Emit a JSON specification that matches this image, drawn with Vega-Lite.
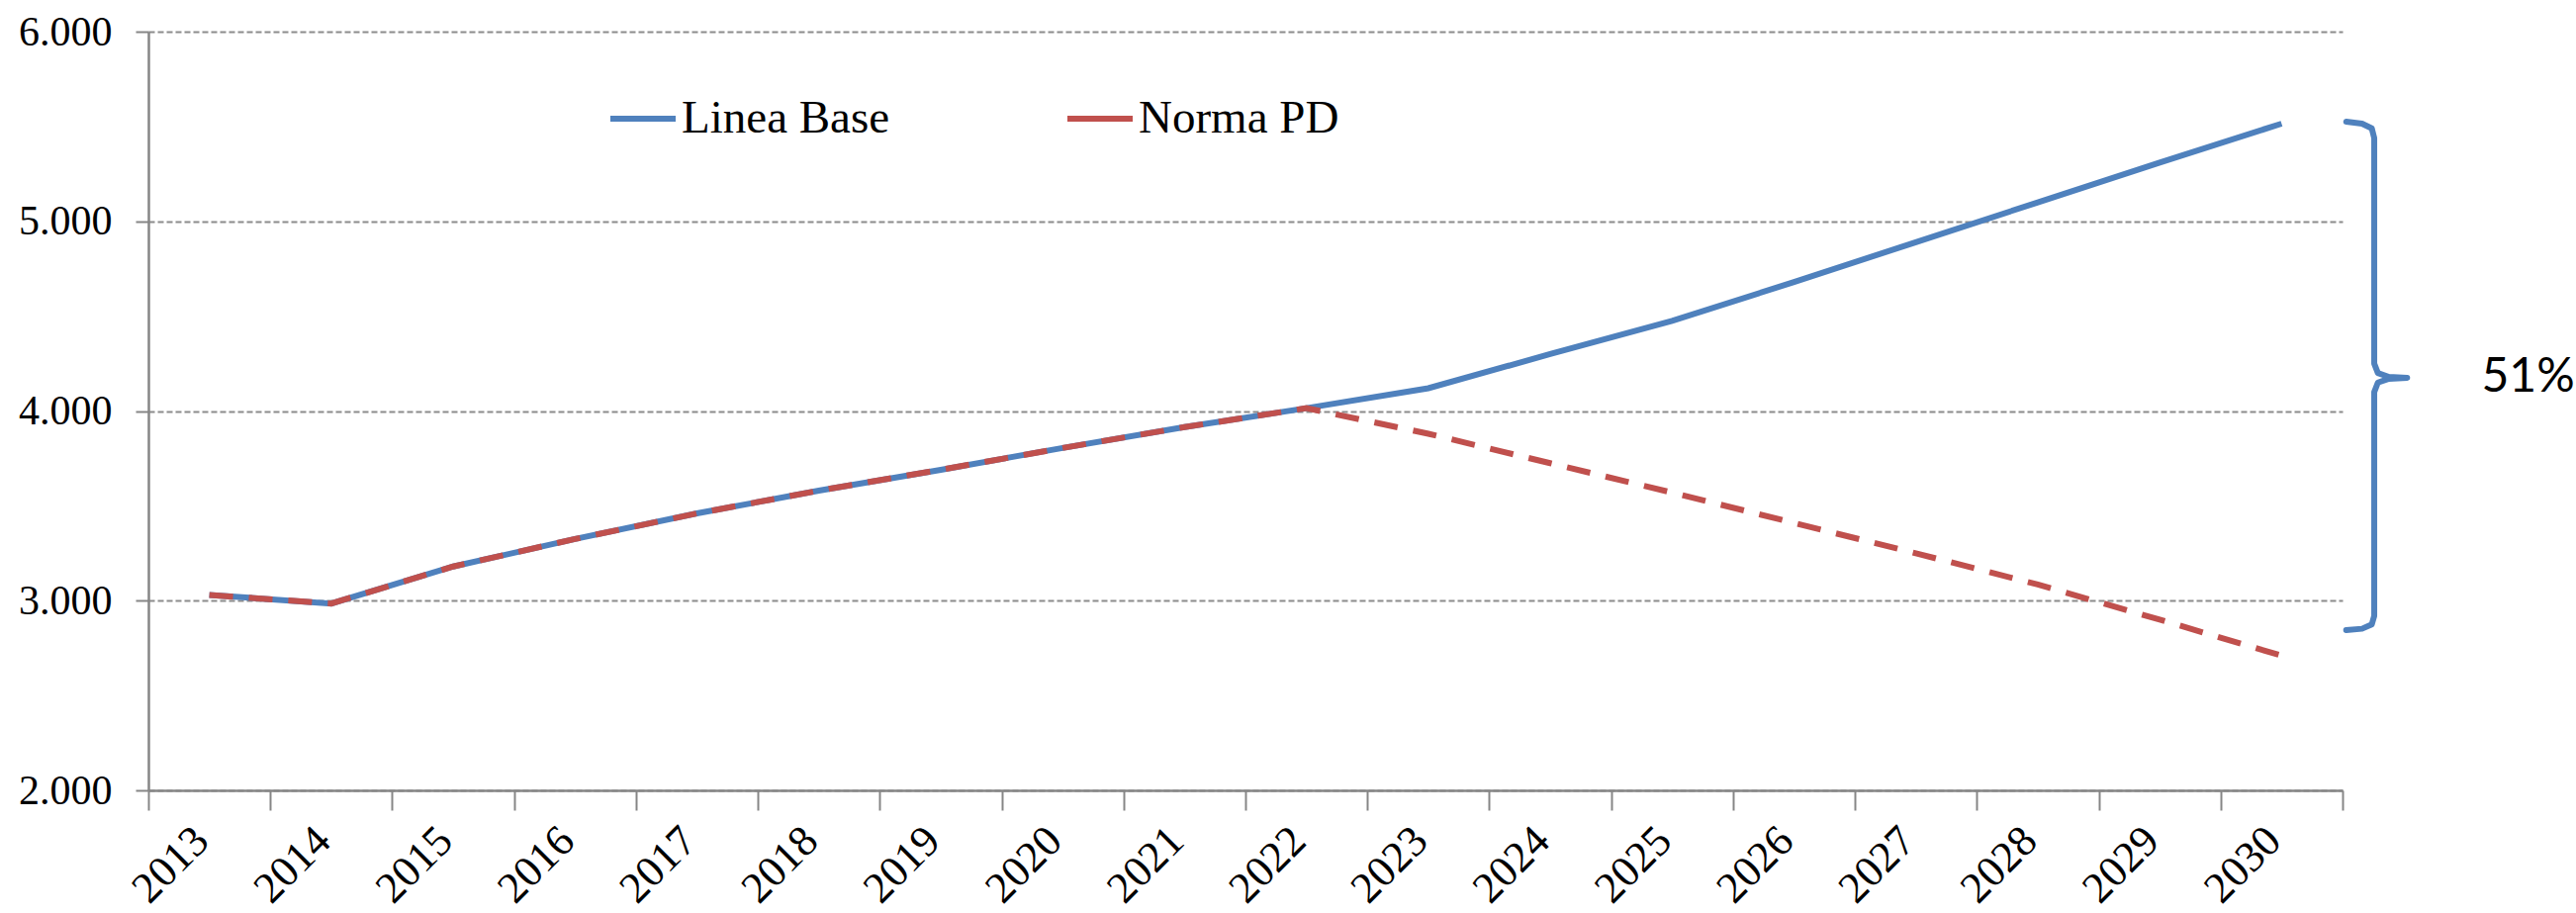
{
  "$schema": "https://vega.github.io/schema/vega-lite/v6.json",
  "width": 2218,
  "height": 767,
  "autosize": {"type": "none"},
  "padding": {"left": 150, "top": 32, "right": 236, "bottom": 124},
  "background": "white",
  "config": {
    "view": {"stroke": null},
    "font": "Liberation Serif",
    "axis": {"labelFont": "Liberation Serif"},
    "legend": {"labelFont": "Liberation Serif"},
    "style": {"guide-label": {"font": "Liberation Serif"}}
  },
  "datasets": {
    "series": [
      {"year": "2013", "series": "Linea Base", "value": 3030},
      {"year": "2014", "series": "Linea Base", "value": 2985},
      {"year": "2015", "series": "Linea Base", "value": 3180},
      {"year": "2016", "series": "Linea Base", "value": 3325},
      {"year": "2017", "series": "Linea Base", "value": 3460},
      {"year": "2018", "series": "Linea Base", "value": 3580},
      {"year": "2019", "series": "Linea Base", "value": 3690},
      {"year": "2020", "series": "Linea Base", "value": 3805},
      {"year": "2021", "series": "Linea Base", "value": 3915},
      {"year": "2022", "series": "Linea Base", "value": 4015},
      {"year": "2023", "series": "Linea Base", "value": 4120},
      {"year": "2024", "series": "Linea Base", "value": 4300},
      {"year": "2025", "series": "Linea Base", "value": 4475},
      {"year": "2026", "series": "Linea Base", "value": 4680},
      {"year": "2027", "series": "Linea Base", "value": 4890},
      {"year": "2028", "series": "Linea Base", "value": 5100},
      {"year": "2029", "series": "Linea Base", "value": 5310},
      {"year": "2030", "series": "Linea Base", "value": 5515},
      {"year": "2013", "series": "Norma PD", "value": 3030},
      {"year": "2014", "series": "Norma PD", "value": 2985},
      {"year": "2015", "series": "Norma PD", "value": 3180},
      {"year": "2016", "series": "Norma PD", "value": 3325},
      {"year": "2017", "series": "Norma PD", "value": 3460},
      {"year": "2018", "series": "Norma PD", "value": 3580},
      {"year": "2019", "series": "Norma PD", "value": 3690},
      {"year": "2020", "series": "Norma PD", "value": 3805},
      {"year": "2021", "series": "Norma PD", "value": 3915},
      {"year": "2022", "series": "Norma PD", "value": 4015},
      {"year": "2023", "series": "Norma PD", "value": 3880},
      {"year": "2024", "series": "Norma PD", "value": 3725},
      {"year": "2025", "series": "Norma PD", "value": 3570},
      {"year": "2026", "series": "Norma PD", "value": 3410},
      {"year": "2027", "series": "Norma PD", "value": 3250},
      {"year": "2028", "series": "Norma PD", "value": 3085},
      {"year": "2029", "series": "Norma PD", "value": 2900},
      {"year": "2030", "series": "Norma PD", "value": 2710}
    ],
    "brace": [
      {"i": 0, "x": 2030.53, "y": 5525},
      {"i": 1, "x": 2030.66, "y": 5515},
      {"i": 2, "x": 2030.74, "y": 5490},
      {"i": 3, "x": 2030.76, "y": 5440},
      {"i": 4, "x": 2030.76, "y": 4250},
      {"i": 5, "x": 2030.79, "y": 4200},
      {"i": 6, "x": 2030.88, "y": 4180},
      {"i": 7, "x": 2031.03, "y": 4175},
      {"i": 8, "x": 2030.88, "y": 4170},
      {"i": 9, "x": 2030.79, "y": 4150},
      {"i": 10, "x": 2030.76, "y": 4100},
      {"i": 11, "x": 2030.76, "y": 2920},
      {"i": 12, "x": 2030.74, "y": 2875},
      {"i": 13, "x": 2030.66, "y": 2852},
      {"i": 14, "x": 2030.53, "y": 2845}
    ],
    "note": [
      {"x": 2031.64, "y": 4175, "label": "51%"}
    ]
  },
  "layer": [
    {
      "data": {"name": "series"},
      "encoding": {
        "x": {
          "field": "year",
          "type": "ordinal",
          "bandPosition": 0.5,
          "scale": {"type": "band", "paddingInner": 0, "paddingOuter": 0},
          "axis": {
            "title": null,
            "tickBand": "extent",
            "labelAngle": -45,
            "labelAlign": "right",
            "labelBaseline": "middle",
            "labelFont": "Liberation Serif",
            "labelFontSize": 44,
            "labelColor": "black",
            "labelPadding": 24,
            "labelOffset": -8,
            "tickSize": 20,
            "tickColor": "#868686",
            "tickWidth": 2,
            "domainColor": "#868686",
            "domainWidth": 2.5,
            "grid": false
          }
        },
        "y": {
          "field": "value",
          "type": "quantitative",
          "scale": {"domain": [2000, 6000], "nice": false, "zero": false},
          "axis": {
            "title": null,
            "values": [2000, 3000, 4000, 5000, 6000],
            "labelExpr": "replace(format(datum.value, ',.0f'), ',', '.')",
            "labelFont": "Liberation Serif",
            "labelFontSize": 42,
            "labelColor": "black",
            "labelPadding": 24,
            "tickSize": 13,
            "tickColor": "#868686",
            "tickWidth": 2,
            "domainColor": "#868686",
            "domainWidth": 2.5,
            "grid": true,
            "gridColor": "#8c8c8c",
            "gridDash": [6, 3],
            "gridWidth": 2
          }
        },
        "color": {
          "field": "series",
          "type": "nominal",
          "scale": {"domain": ["Linea Base", "Norma PD"], "range": ["#4F81BD", "#C0504D"]},
          "legend": {
            "orient": "none",
            "legendX": 464,
            "legendY": 52,
            "direction": "horizontal",
            "title": null,
            "symbolType": "stroke",
            "symbolSize": 4356,
            "symbolStrokeWidth": 6,
            "symbolDash": [1, 0],
            "labelFont": "Liberation Serif",
            "labelFontSize": 47,
            "labelLimit": 600,
            "labelColor": "black",
            "labelOffset": 3,
            "columnPadding": 167,
            "padding": 0
          }
        }
      },
      "layer": [
        {
          "transform": [{"filter": "datum.series === 'Linea Base'"}],
          "mark": {"type": "line", "strokeWidth": 6}
        },
        {
          "transform": [{"filter": "datum.series === 'Norma PD'"}],
          "mark": {"type": "line", "strokeWidth": 6, "strokeDash": [24, 16]}
        }
      ]
    },
    {
      "layer": [
        {
          "data": {"name": "brace"},
          "mark": {"type": "line", "strokeWidth": 6, "color": "#4F81BD", "strokeCap": "round", "strokeJoin": "round"},
          "encoding": {
            "x": {"field": "x", "type": "quantitative", "scale": {"domain": [2012.5, 2030.5], "nice": false, "zero": false}, "axis": null},
            "y": {"field": "y", "type": "quantitative", "scale": {"domain": [2000, 6000], "nice": false, "zero": false}, "title": null},
            "order": {"field": "i", "type": "quantitative"}
          }
        },
        {
          "data": {"name": "note"},
          "mark": {"type": "text", "align": "left", "baseline": "middle", "font": "Lato", "fontSize": 48, "color": "black"},
          "encoding": {
            "x": {"field": "x", "type": "quantitative", "scale": {"domain": [2012.5, 2030.5], "nice": false, "zero": false}, "axis": null},
            "y": {"field": "y", "type": "quantitative", "scale": {"domain": [2000, 6000], "nice": false, "zero": false}, "title": null},
            "text": {"field": "label"}
          }
        }
      ]
    }
  ],
  "resolve": {"scale": {"x": "independent"}}
}
